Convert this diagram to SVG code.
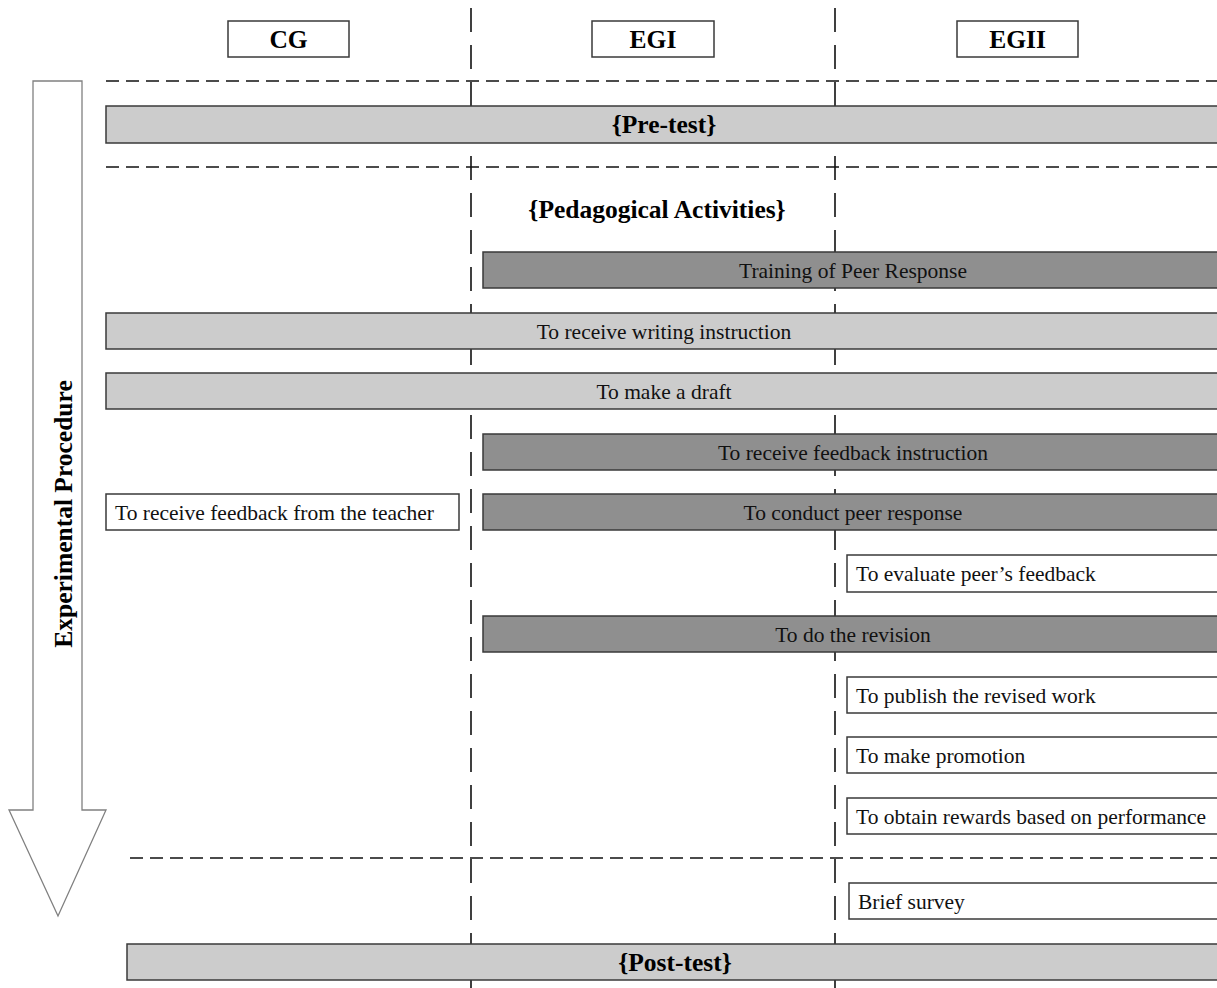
<svg xmlns="http://www.w3.org/2000/svg" width="1217" height="988" viewBox="0 0 1217 988">
<style>
.t{font-family:"Liberation Serif","Times New Roman",serif;font-size:21.5px;fill:#111}
.b{font-family:"Liberation Serif","Times New Roman",serif;font-weight:bold;font-size:25.5px;fill:#000}
.light{fill:#cccccc;stroke:#3a3a3a;stroke-width:1.5}
.dark{fill:#8f8f8f;stroke:#3a3a3a;stroke-width:1.5}
.white{fill:#fff;stroke:#3a3a3a;stroke-width:1.5}
.hd{stroke:#111;stroke-width:1.6;stroke-dasharray:13 7;fill:none}
.vd{stroke:#111;stroke-width:1.6;stroke-dasharray:24 13;fill:none}
</style>
<rect width="1217" height="988" fill="#fff"/>
<g id="connectors">
<line class="vd" x1="471" y1="8" x2="471" y2="988"/>
<line class="vd" x1="835" y1="8" x2="835" y2="988"/>
<line class="hd" x1="106" y1="81" x2="1217" y2="81"/>
<line class="hd" x1="106" y1="167" x2="1217" y2="167"/>
<line class="hd" x1="130" y1="858" x2="1217" y2="858"/>
</g>
<g id="arrow">
<polygon points="33,81 82,81 82,810 106,810 58,916 9,810 33,810" fill="#fff" stroke="#808080" stroke-width="1.3"/>
<text class="b" transform="translate(72,514) rotate(-90)" text-anchor="middle" font-size="24.5">Experimental Procedure</text>
</g>
<g id="cg"><rect class="white" x="228" y="21" width="121" height="36"/><text class="b" x="288.5" y="48" text-anchor="middle">CG</text></g>
<g id="egi"><rect class="white" x="592" y="21" width="122" height="36"/><text class="b" x="653" y="48" text-anchor="middle">EGI</text></g>
<g id="egii"><rect class="white" x="957" y="21" width="121" height="36"/><text class="b" x="1017.5" y="48" text-anchor="middle">EGII</text></g>
<g id="pretest"><rect class="light" x="106" y="106" width="1120" height="37"/><text class="b" x="664" y="133" text-anchor="middle">{Pre-test}</text></g>
<g id="pedagogical"><text class="b" x="657" y="218" text-anchor="middle">{Pedagogical Activities}</text></g>
<g id="training"><rect class="dark" x="483" y="252" width="740" height="36"/><text class="t" x="853" y="277.5" text-anchor="middle">Training of Peer Response</text></g>
<g id="writing"><rect class="light" x="106" y="313" width="1117" height="36"/><text class="t" x="664" y="338.5" text-anchor="middle">To receive writing instruction</text></g>
<g id="draft"><rect class="light" x="106" y="373" width="1117" height="36"/><text class="t" x="664" y="398.5" text-anchor="middle">To make a draft</text></g>
<g id="feedbackinstr"><rect class="dark" x="483" y="434" width="740" height="36"/><text class="t" x="853" y="459.5" text-anchor="middle">To receive feedback instruction</text></g>
<g id="teacher"><rect class="white" x="106" y="494" width="353" height="36"/><text class="t" x="115" y="519.5">To receive feedback from the teacher</text></g>
<g id="peer"><rect class="dark" x="483" y="494" width="740" height="36"/><text class="t" x="853" y="519.5" text-anchor="middle">To conduct peer response</text></g>
<g id="evaluate"><rect class="white" x="847" y="555" width="376" height="37"/><text class="t" x="856" y="580.5">To evaluate peer’s feedback</text></g>
<g id="revision"><rect class="dark" x="483" y="616" width="740" height="36"/><text class="t" x="853" y="641.5" text-anchor="middle">To do the revision</text></g>
<g id="publish"><rect class="white" x="847" y="677" width="376" height="36"/><text class="t" x="856" y="702.5">To publish the revised work</text></g>
<g id="promotion"><rect class="white" x="847" y="737" width="376" height="36"/><text class="t" x="856" y="762.5">To make promotion</text></g>
<g id="rewards"><rect class="white" x="847" y="798" width="376" height="36"/><text class="t" x="856" y="823.5">To obtain rewards based on performance</text></g>
<g id="survey"><rect class="white" x="849" y="883" width="374" height="36"/><text class="t" x="858" y="908.5">Brief survey</text></g>
<g id="posttest"><rect class="light" x="127" y="944" width="1096" height="36"/><text class="b" x="675" y="970.5" text-anchor="middle">{Post-test}</text></g>
</svg>
